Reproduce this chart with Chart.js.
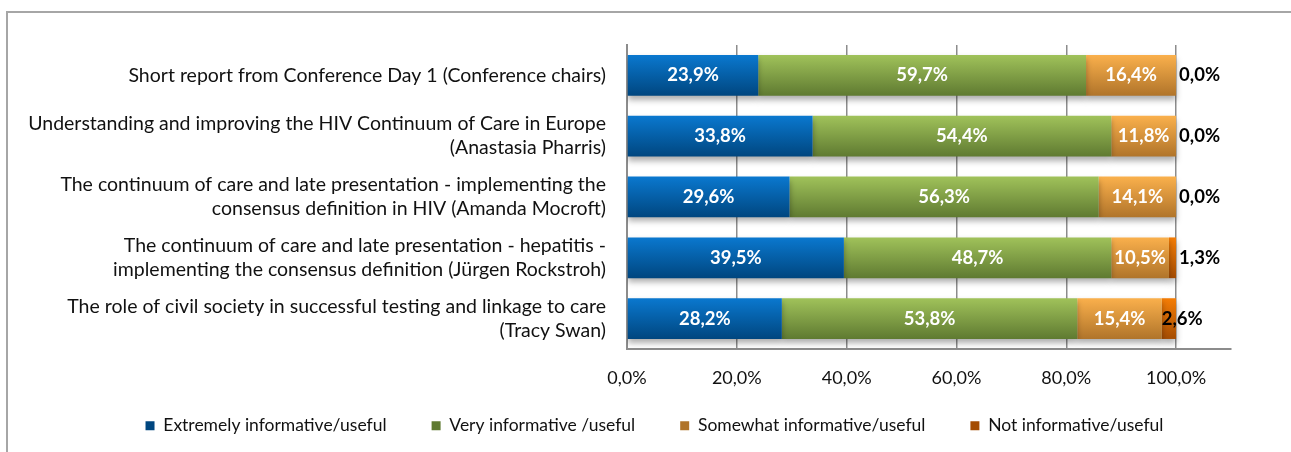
<!DOCTYPE html>
<html>
<head>
<meta charset="utf-8">
<script src="https://cdn.jsdelivr.net/npm/chart.js@4/dist/chart.umd.min.js"></script>
<style>
  html, body { margin: 0; padding: 0; background: #fff; overflow: hidden; }
  #frame { position: absolute; left: 6px; top: 11px; width: 1400px; height: 600px;
           border-left: 2px solid #a6a6a6; border-top: 2px solid #a6a6a6; }
  #chart { position: absolute; left: 0; top: 0; }
</style>
</head>
<body>
<div id="frame"></div>
<canvas id="chart" width="1291" height="452"></canvas>
<script>
// sessions (one bar each)
const sessions = [
    ['Short report from Conference Day 1 (Conference chairs)'],
    ['Understanding and improving the HIV Continuum of Care in Europe', '(Anastasia Pharris)'],
    ['The continuum of care and late presentation - implementing the', 'consensus definition in HIV (Amanda Mocroft)'],
    ['The continuum of care and late presentation - hepatitis -', 'implementing the consensus definition (Jürgen Rockstroh)'],
    ['The role of civil society in successful testing and linkage to care', '(Tracy Swan)']
];

// answers in %
const extremely = [23.9, 33.8, 29.6, 39.5, 28.2];
const very      = [59.7, 54.4, 56.3, 48.7, 53.8];
const somewhat  = [16.4, 11.8, 14.1, 10.5, 15.4];
const notInfo   = [0.0, 0.0, 0.0, 1.3, 2.6];

const xTicks = [0, 20, 40, 60, 80, 100];

const BAR_PCT = 0.67;

// vertical gradient on each bar, like the office style
function barFill(top, bottom, solid) {
    return function (context) {
        if (context.type !== 'data') return solid;
        const chart = context.chart;
        const y = chart.scales.y;
        if (!y || !chart.chartArea) return solid;
        const c = y.getPixelForValue(context.dataIndex);
        const half = (y.height / sessions.length) * BAR_PCT / 2;
        const g = chart.ctx.createLinearGradient(0, c - half, 0, c + half);
        g.addColorStop(0, top);
        g.addColorStop(1, bottom);
        return g;
    };
}

function fmt(v) {
    return v.toFixed(1).replace('.', ',') + '%';
}

// shadow under bars + value labels
const barDeco = {
    id: 'barDeco',
    afterLayout(chart) {
        // legend uses its padding also above the items, pull it up a bit
        // and centre it on the whole picture, not only up to the right padding
        const lg = chart.legend;
        if (lg) {
            lg.top -= 19;
            lg.bottom = chart.height;
            lg.left += 39;
            lg.right += 39;
        }
    },
    beforeDatasetsDraw(chart) {
        const ctx = chart.ctx;
        ctx.save();
        ctx.shadowColor = 'rgba(0,0,0,0.32)';
        ctx.shadowBlur = 6;
        ctx.shadowOffsetX = 0;
        ctx.shadowOffsetY = 4;
    },
    afterDatasetsDraw(chart) {
        const ctx = chart.ctx;
        ctx.restore();
        ctx.save();
        ctx.font = 'bold 18.5px Lato';
        ctx.textBaseline = 'middle';
        chart.data.datasets.forEach((ds, di) => {
            const meta = chart.getDatasetMeta(di);
            meta.data.forEach((bar, i) => {
                const p = bar.getProps(['x', 'y', 'base'], true);
                const v = ds.data[i];
                if (di === 3) {
                    // small segment: label sits at the end of the bar
                    ctx.fillStyle = '#000';
                    ctx.textAlign = 'left';
                    const w = p.x - p.base;
                    ctx.fillText(fmt(v), w >= 10 ? p.base : p.x + 3, p.y);
                } else {
                    ctx.fillStyle = '#fff';
                    ctx.textAlign = 'center';
                    ctx.fillText(fmt(v), (p.x + p.base) / 2, p.y);
                }
            });
        });
        ctx.restore();
    }
};

const gray = '#8c8c8c';

new Chart(document.getElementById('chart'), {
    type: 'bar',
    data: {
        labels: sessions,
        datasets: [
            { label: 'Extremely informative/useful', data: extremely,
              backgroundColor: barFill('#0a78cf', '#00467f', '#0560a8') },
            { label: 'Very informative /useful', data: very,
              backgroundColor: barFill('#a0c25a', '#5f7a31', '#82a046') },
            { label: 'Somewhat informative/useful', data: somewhat,
              backgroundColor: barFill('#fab04c', '#b0742a', '#e0953c') },
            { label: 'Not informative/useful', data: notInfo,
              backgroundColor: barFill('#f57d05', '#a44c02', '#d86404') }
        ]
    },
    options: {
        indexAxis: 'y',
        responsive: false,
        animation: false,
        devicePixelRatio: 1,
        datasets: {
            bar: { barPercentage: BAR_PCT, categoryPercentage: 1, borderWidth: 0 }
        },
        layout: { padding: { top: 41, right: 60, bottom: 21, left: 0 } },
        scales: {
            x: {
                stacked: true,
                min: 0,
                max: 110,
                afterBuildTicks: (scale) => {
                    scale.ticks = xTicks.map(v => ({ value: v }));
                },
                afterFit: (scale) => { scale.height = 42; },
                grid: { color: gray, lineWidth: 1.5, drawTicks: false },
                border: { color: gray, width: 2 },
                ticks: {
                    padding: 18,
                    color: '#111',
                    font: { family: 'Lato', size: 18 },
                    callback: (v) => fmt(v)
                }
            },
            y: {
                stacked: true,
                afterFit: (scale) => { scale.width = 627; },
                grid: { display: false, drawTicks: false },
                border: { color: gray, width: 2 },
                ticks: {
                    padding: 21,
                    color: '#111',
                    font: { family: 'Lato', size: 19.5, lineHeight: 1.23 }
                }
            }
        },
        plugins: {
            legend: {
                position: 'bottom',
                maxHeight: 40,
                labels: {
                    boxWidth: 9,
                    boxHeight: 9,
                    padding: 45,
                    color: '#111',
                    font: { family: 'Lato', size: 17.5 }
                }
            },
            tooltip: { enabled: false }
        }
    },
    plugins: [barDeco]
});
</script>
</body>
</html>
